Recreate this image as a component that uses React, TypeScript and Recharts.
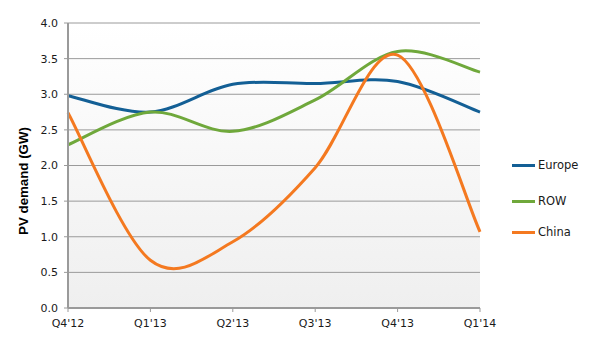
import React from 'react';
import { LineChart, Line, XAxis, YAxis, CartesianGrid } from 'recharts';

const quarters = ["Q4'12", "Q1'13", "Q2'13", "Q3'13", "Q4'13", "Q1'14"];
const europe = [2.98, 2.75, 3.14, 3.15, 3.18, 2.75];
const row = [2.29, 2.75, 2.48, 2.92, 3.6, 3.31];
const china = [2.74, 0.67, 0.93, 1.97, 3.55, 1.07];
const yTicks = [0, 0.5, 1, 1.5, 2, 2.5, 3, 3.5, 4];

const seriesNames = ['Europe', 'ROW', 'China'];
const seriesColors = ['#135f95', '#6fa83b', '#f47920'];

const data = quarters.map((q, i) => ({
  q,
  Europe: europe[i],
  ROW: row[i],
  China: china[i],
}));

// Excel-like smoothed line (uniform Catmull-Rom converted to Bezier)
function excelSmooth(context: any) {
  let pts: number[][] = [];
  return {
    areaStart() {},
    areaEnd() {},
    lineStart() { pts = []; },
    point(x: number, y: number) { pts.push([+x, +y]); },
    lineEnd() {
      const n = pts.length;
      if (!n) return;
      context.moveTo(pts[0][0], pts[0][1]);
      for (let i = 0; i < n - 1; i++) {
        const p0 = pts[Math.max(0, i - 1)];
        const p1 = pts[i];
        const p2 = pts[i + 1];
        const p3 = pts[Math.min(n - 1, i + 2)];
        const c1x = p1[0] + (p2[0] - p0[0]) / 6;
        const c1y = p1[1] + (p2[1] - p0[1]) / 6;
        const c2x = p2[0] - (p3[0] - p1[0]) / 6;
        const c2y = p2[1] - (p3[1] - p1[1]) / 6;
        context.bezierCurveTo(c1x, c1y, c2x, c2y, p2[0], p2[1]);
      }
    },
  };
}

const font = '"DejaVu Sans", Verdana, sans-serif';

const YLabel = () => {
  const cx = 28;
  const cy = 181;
  return (
    <text
      x={cx}
      y={cy}
      transform={`rotate(-90, ${cx}, ${cy})`}
      textAnchor="middle"
      fontFamily='"Liberation Sans", Arial, sans-serif'
      fontWeight="bold"
      fontSize={13.3}
      fill="#000"
    >
      PV demand (GW)
    </text>
  );
};

export default function App() {
  return (
    <div style={{ position: 'absolute', left: 0, top: 0, width: 590, height: 360, background: '#fff' }}>
      <LineChart
        width={590}
        height={360}
        data={data}
        margin={{ top: 23, right: 110, bottom: 30, left: 0 }}
      >
        <defs>
          <linearGradient id="plotBg" x1="0" y1="0" x2="0" y2="1">
            <stop offset="0%" stopColor="#ffffff" />
            <stop offset="100%" stopColor="#efefef" />
          </linearGradient>
        </defs>
        <CartesianGrid
          vertical={false}
          stroke="#9a9a9a"
          strokeWidth={1}
          fill="url(#plotBg)"
          fillOpacity={1}
        />
        <XAxis
          dataKey="q"
          ticks={quarters}
          interval={0}
          tickLine={{ stroke: '#9a9a9a' }}
          axisLine={{ stroke: '#9a9a9a', strokeWidth: 2 }}
          tickSize={4}
          tick={{ fontFamily: font, fontSize: 11, fill: '#1a1a1a' }}
          tickMargin={7}
          height={22}
        />
        <YAxis
          domain={[0, 4]}
          ticks={yTicks}
          interval={0}
          width={68}
          tickFormatter={(v: number) => v.toFixed(1)}
          tickLine={{ stroke: '#9a9a9a' }}
          axisLine={{ stroke: '#9a9a9a', strokeWidth: 2 }}
          tickSize={4}
          tickMargin={6}
          tick={{ fontFamily: font, fontSize: 11, fill: '#1a1a1a' }}
          label={<YLabel />}
        />
        <YAxis
          yAxisId="right"
          orientation="right"
          domain={[0, 4]}
          width={0}
          tick={false}
          tickLine={false}
          axisLine={{ stroke: '#9a9a9a', strokeWidth: 2 }}
        />
        {seriesNames.map((name, i) => (
          <Line
            key={name}
            dataKey={name}
            type={excelSmooth as any}
            stroke={seriesColors[i]}
            strokeWidth={3}
            dot={false}
            activeDot={false}
            isAnimationActive={false}
          />
        ))}
      </LineChart>
      <div style={{ position: 'absolute', left: 512, top: 0, fontFamily: font, fontSize: 11.5, color: '#1a1a1a' }}>
        {seriesNames.map((name, i) => (
          <div
            key={name}
            style={{
              position: 'absolute',
              top: [165, 201, 232][i] - 8,
              left: 0,
              height: 16,
              display: 'flex',
              alignItems: 'center',
              whiteSpace: 'nowrap',
            }}
          >
            <span style={{ display: 'inline-block', width: 23, height: 3, background: seriesColors[i], marginRight: 3 }} />
            <span>{name}</span>
          </div>
        ))}
      </div>
    </div>
  );
}
